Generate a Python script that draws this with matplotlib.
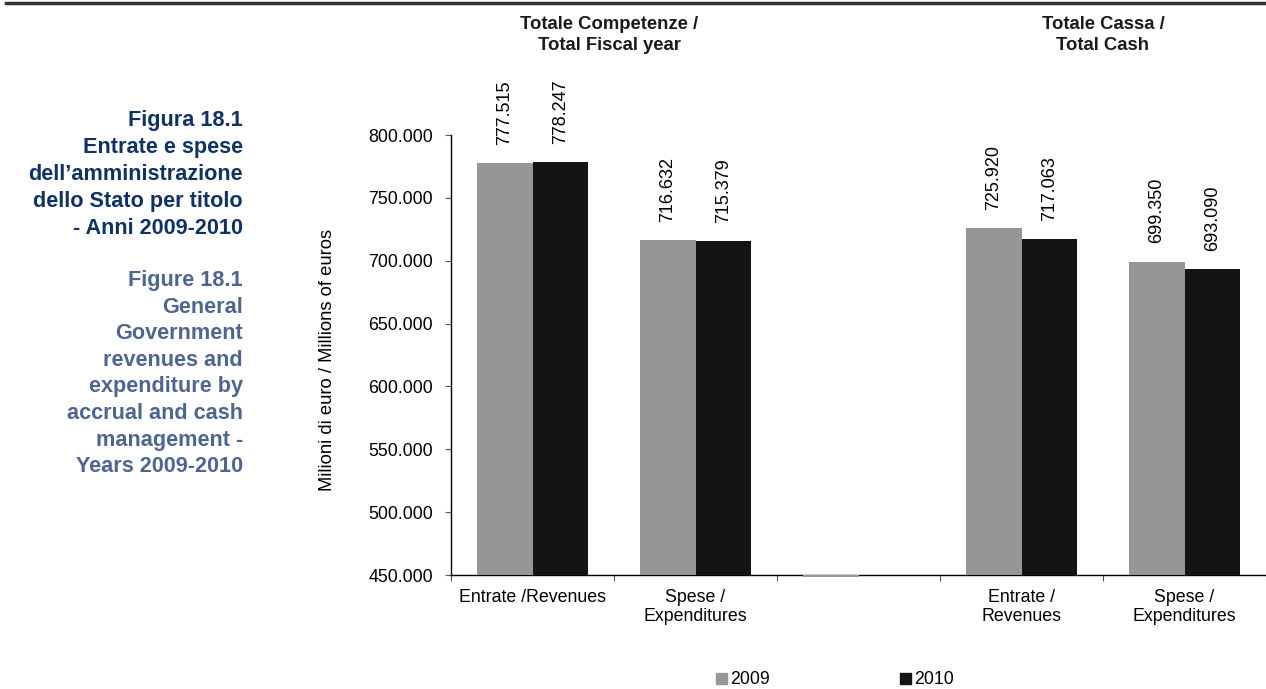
import numpy as np
import matplotlib
matplotlib.use('Agg')
import matplotlib.pyplot as plt
from matplotlib.patches import Patch
from matplotlib.transforms import blended_transform_factory

plt.rcParams['font.family'] = ['Liberation Sans', 'DejaVu Sans']

# dati (migliaia di milioni, formato italiano)
categorie = ['Entrate /Revenues', 'Spese /\nExpenditures', '',
             'Entrate /\nRevenues', 'Spese /\nExpenditures']
v2009 = [777.515, 716.632, 448.5, 725.920, 699.350]
v2010 = [778.247, 715.379, np.nan, 717.063, 693.090]
intestazioni = ['Totale Competenze /\nTotal Fiscal year', 'Totale Cassa /\nTotal Cash']
pos_intestazioni = [0.47, 3.5]
yticks = [450, 500, 550, 600, 650, 700, 750, 800]

titolo_it = 'Figura 18.1\nEntrate e spese\ndell\u2019amministrazione\ndello Stato per titolo\n- Anni 2009-2010'
titolo_en = 'Figure 18.1\nGeneral\nGovernment\nrevenues and\nexpenditure by\naccrual and cash\nmanagement -\nYears 2009-2010'

c09 = '#969696'
c10 = '#141414'
base = 450

fig = plt.figure(figsize=(12.66, 6.89), dpi=100)
ax = fig.add_axes([451/1266, 1-575/689, 815/1266, 440/689])

x = np.arange(len(categorie))
w = 0.34
a = np.array(v2009)
b = np.array(v2010)
ax.bar(x - w/2, a - base, w, bottom=base, color=c09, clip_on=False, zorder=3)
ax.bar(x + w/2, b - base, w, bottom=base, color=c10, clip_on=False, zorder=3)

# etichette valori
for xs, vals in [(x - w/2, a), (x + w/2, b)]:
    for xi, val in zip(xs, vals):
        if val > base:
            ax.annotate(f'{val:.3f}', (xi, val), xytext=(0, 13), textcoords='offset points',
                        rotation=90, ha='center', va='bottom', fontsize=13)

ax.set_xlim(-0.5, 4.5)
ax.set_ylim(base, 800)
ax.set_yticks(yticks)
ax.set_yticklabels([f'{t:.3f}' for t in yticks], fontsize=12.8)
ax.tick_params(axis='y', length=4, color='#555555', pad=9)

ax.set_xticks(np.arange(-0.5, 5, 1))
ax.set_xticklabels([])
ax.set_xticks(x, minor=True)
ax.set_xticklabels(categorie, minor=True, fontsize=12.8)
ax.tick_params(axis='x', which='major', length=4, color='#555555')
ax.tick_params(axis='x', which='minor', length=0, pad=10)

for s in ['top', 'right']:
    ax.spines[s].set_visible(False)
ax.spines['left'].set_linewidth(1)
ax.spines['bottom'].set_linewidth(1)

fig.text(327/1266, 1-360/689, 'Milioni di euro / Millions of euros', rotation=90,
         ha='center', va='center', fontsize=13.2)

tr = blended_transform_factory(ax.transData, fig.transFigure)
for px, t in zip(pos_intestazioni, intestazioni):
    ax.text(px, 1-35/689, t, transform=tr, ha='center', va='center',
            fontsize=13.3, fontweight='bold', linespacing=1.3, color='#1a1a1a')

fig.text(243/1266, 1-110/689, titolo_it, ha='right', va='top', fontsize=15.6,
         fontweight='bold', color='#0f3263', linespacing=1.37)
fig.text(243/1266, 1-270/689, titolo_en, ha='right', va='top', fontsize=15.6,
         fontweight='bold', color='#4e6592', linespacing=1.35)

fig.add_artist(plt.Line2D([6/1266, 1], [1-3/689, 1-3/689], color='#333333', lw=2.5))

handles = [Patch(color=c09, label='2009'), Patch(color=c10, label='2010')]
fig.legend(handles=handles, loc='center', bbox_to_anchor=(835/1266, 1-680/689), ncol=2,
           frameon=False, fontsize=12.8, handlelength=0.6, handleheight=0.6,
           handletextpad=0.2, columnspacing=7.3)

fig.savefig('out.png', dpi=100)
